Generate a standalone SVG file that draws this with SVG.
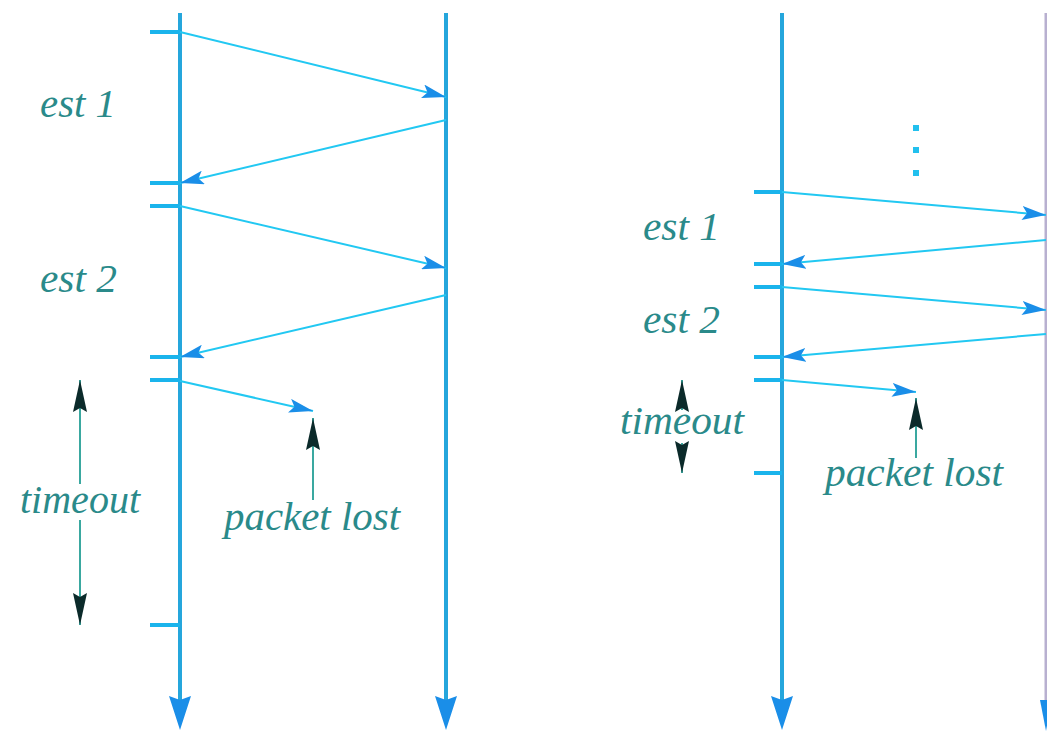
<svg xmlns="http://www.w3.org/2000/svg" width="1047" height="731" viewBox="0 0 1047 731">
<defs>
<style>
.tl{stroke:#25a6dc;stroke-width:4;fill:none}
.tk{stroke:#1ab4ec;stroke-width:4;fill:none}
.msg{stroke:#22c8f2;stroke-width:2;fill:none}
.lbl{font-family:"Liberation Serif","DejaVu Serif",serif;font-style:italic;font-size:40px;fill:#2a8a8a}
.ann{stroke:#3aa8a0;stroke-width:2;fill:none}
</style>
<marker id="mh" viewBox="0 0 24 14" refX="24" refY="7" markerWidth="24" markerHeight="14" markerUnits="userSpaceOnUse" orient="auto">
<path d="M0,0 L24,7 L0,14 L5,7 Z" fill="#1a8ee8"/>
</marker>
<marker id="ah" viewBox="0 0 32 14" refX="32" refY="7" markerWidth="32" markerHeight="14" markerUnits="userSpaceOnUse" orient="auto">
<path d="M32,7 L0,0 L4,7 L0,14 Z" fill="#0b2a2a"/>
</marker>
</defs>

<g id="left-panel">
<g id="left-sender">
<line class="tl" x1="180" y1="13" x2="180" y2="700"/>
<path d="M169,696 L180,700 L191,696 L180,730 Z" fill="#1a8ee8"/>
<line class="tk" x1="150" y1="32" x2="180" y2="32"/>
<line class="tk" x1="150" y1="183" x2="180" y2="183"/>
<line class="tk" x1="150" y1="206" x2="180" y2="206"/>
<line class="tk" x1="150" y1="357" x2="180" y2="357"/>
<line class="tk" x1="150" y1="380" x2="180" y2="380"/>
<line class="tk" x1="150" y1="625" x2="180" y2="625"/>
</g>
<g id="left-receiver">
<line class="tl" x1="446" y1="13" x2="446" y2="700"/>
<path d="M435,696 L446,700 L457,696 L446,730 Z" fill="#1a8ee8"/>
</g>
<g id="left-labels">
<text class="lbl" x="40" y="117" textLength="76" lengthAdjust="spacingAndGlyphs">est 1</text>
<text class="lbl" x="40" y="292" textLength="77" lengthAdjust="spacingAndGlyphs">est 2</text>
<text class="lbl" x="80" y="513" text-anchor="middle" textLength="120" lengthAdjust="spacingAndGlyphs">timeout</text>
<text class="lbl" x="312" y="530" text-anchor="middle" textLength="176" lengthAdjust="spacingAndGlyphs">packet lost</text>
</g>
</g>

<g id="right-panel">
<g id="right-sender">
<line class="tl" x1="782" y1="13" x2="782" y2="700"/>
<path d="M771,696 L782,700 L793,696 L782,730 Z" fill="#1a8ee8"/>
<line class="tk" x1="754" y1="192" x2="782" y2="192"/>
<line class="tk" x1="754" y1="264" x2="782" y2="264"/>
<line class="tk" x1="754" y1="287" x2="782" y2="287"/>
<line class="tk" x1="754" y1="357" x2="782" y2="357"/>
<line class="tk" x1="754" y1="380" x2="782" y2="380"/>
<line class="tk" x1="754" y1="473" x2="782" y2="473"/>
</g>
<g id="right-receiver">
<line x1="1046" y1="13" x2="1046" y2="700" stroke="#b8b0d0" stroke-width="3"/>
<path d="M1040,700 L1052,700 L1046,731 Z" fill="#1a8ee8"/>
</g>
<g id="dots" fill="#22c0ee">
<rect x="913" y="125" width="6" height="6"/>
<rect x="913" y="147" width="6" height="6"/>
<rect x="913" y="170" width="6" height="6"/>
</g>
<g id="right-labels">
<text class="lbl" x="643" y="240" textLength="77" lengthAdjust="spacingAndGlyphs">est 1</text>
<text class="lbl" x="643" y="333" textLength="77" lengthAdjust="spacingAndGlyphs">est 2</text>
<text class="lbl" x="682" y="434" text-anchor="middle" textLength="124" lengthAdjust="spacingAndGlyphs">timeout</text>
<text class="lbl" x="914" y="486" text-anchor="middle" textLength="178" lengthAdjust="spacingAndGlyphs">packet lost</text>
</g>
</g>

<g id="connectors">
<line class="msg" x1="180" y1="32" x2="446" y2="97" marker-end="url(#mh)"/>
<line class="msg" x1="446" y1="120" x2="180" y2="183" marker-end="url(#mh)"/>
<line class="msg" x1="180" y1="206" x2="446" y2="268" marker-end="url(#mh)"/>
<line class="msg" x1="446" y1="295" x2="180" y2="357" marker-end="url(#mh)"/>
<line class="msg" x1="180" y1="381" x2="313" y2="411" marker-end="url(#mh)"/>
<line class="ann" x1="313" y1="500" x2="313" y2="418" marker-end="url(#ah)"/>
<line class="ann" x1="80" y1="484" x2="80" y2="380" marker-end="url(#ah)"/>
<line class="ann" x1="80" y1="520" x2="80" y2="625" marker-end="url(#ah)"/>

<line class="msg" x1="782" y1="192" x2="1046" y2="215" marker-end="url(#mh)"/>
<line class="msg" x1="1046" y1="240" x2="782" y2="264" marker-end="url(#mh)"/>
<line class="msg" x1="782" y1="287" x2="1046" y2="310" marker-end="url(#mh)"/>
<line class="msg" x1="1046" y1="334" x2="782" y2="357" marker-end="url(#mh)"/>
<line class="msg" x1="782" y1="380" x2="916" y2="392" marker-end="url(#mh)"/>
<line class="ann" x1="916" y1="458" x2="916" y2="398" marker-end="url(#ah)"/>
<line class="ann" x1="682" y1="410" x2="682" y2="380" marker-end="url(#ah)"/>
<line class="ann" x1="682" y1="443" x2="682" y2="473" marker-end="url(#ah)"/>
</g>
</svg>
